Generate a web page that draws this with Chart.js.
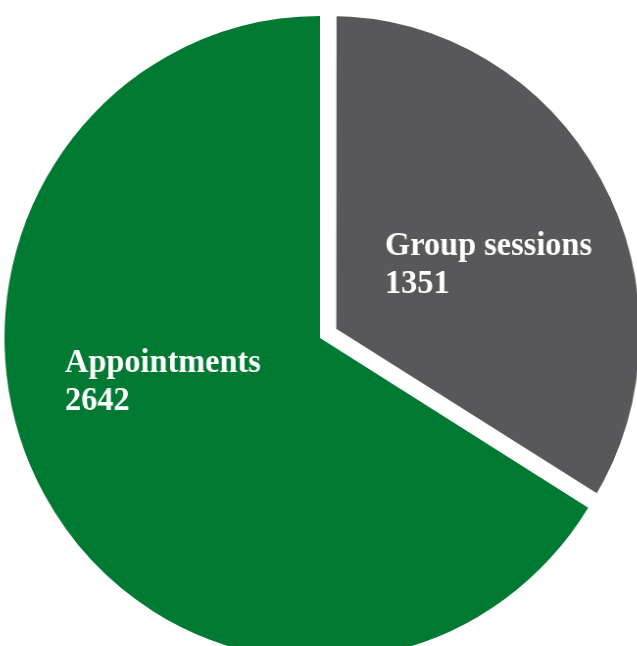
<!DOCTYPE html>
<html>
<head>
<meta charset="utf-8">
<script src="https://cdn.jsdelivr.net/npm/chart.js@4"></script>
<style>
    html, body { margin: 0; padding: 0; background: #ffffff; overflow: hidden; }
    body { width: 637px; height: 646px; position: relative; }
    #pieChart {
        position: absolute;
        left: -30px;
        top: -12px;
        transform: scaleX(0.98);
        transform-origin: 350px 350px;
    }
</style>
</head>
<body>
<canvas id="pieChart" width="700" height="700"></canvas>
<script>
const categories = ["Group sessions", "Appointments"];
const counts = [1351, 2642];
const sliceColors = ["#58585a", "#007a33"];

// label anchors as fractions of the radius, from the pie centre
const labelSpots = [
    { dx: 0.206, dy: -0.258 },
    { dx: -0.808, dy: 0.106 }
];

const sliceLabels = {
    id: "sliceLabels",
    afterDatasetsDraw(chart) {
        const ctx = chart.ctx;
        const arcs = chart.getDatasetMeta(0).data;
        ctx.save();
        ctx.fillStyle = "#ffffff";
        ctx.font = "bold 33px 'Liberation Serif', serif";
        ctx.textAlign = "left";
        ctx.textBaseline = "alphabetic";
        arcs.forEach(function (arc, i) {
            const r = arc.outerRadius;
            const x = arc.x + labelSpots[i].dx * r;
            const y = arc.y + labelSpots[i].dy * r;
            ctx.fillText(categories[i], x, y);
            ctx.fillText(String(counts[i]), x, y + 38);
        });
        ctx.restore();
    }
};

document.addEventListener("DOMContentLoaded", function () {
    const ctx = document.getElementById("pieChart").getContext("2d");
    new Chart(ctx, {
        type: "pie",
        data: {
            labels: categories,
            datasets: [{
                data: counts,
                backgroundColor: sliceColors,
                borderColor: "#ffffff",
                borderWidth: [14, 0],
                borderAlign: "center",
                offset: [44, 0]
            }]
        },
        options: {
            responsive: false,
            animation: false,
            radius: 322,
            layout: { padding: 0 },
            plugins: {
                legend: { display: false },
                tooltip: { enabled: false }
            }
        },
        plugins: [sliceLabels]
    });
});
</script>
</body>
</html>
